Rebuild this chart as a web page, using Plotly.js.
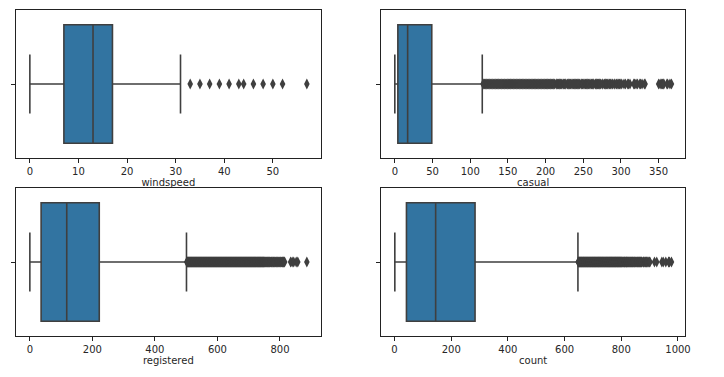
<!DOCTYPE html>
<html>
<head>
<meta charset="utf-8">
<script src="https://cdn.plot.ly/plotly-3.0.1.min.js"></script>
<style>html,body{margin:0;padding:0;background:#fff;}#chart{width:724px;height:377px;}</style>
</head>
<body>
<div id="chart"></div>
<script>
// ---- data ----
const variables = ['windspeed', 'casual', 'registered', 'count'];
const q1Values = [7.0015, 4, 36, 42];
const medianValues = [12.998, 17, 118, 145];
const q3Values = [16.9979, 49, 222, 284];
const lowerWhiskers = [0, 0, 0, 1];
const upperWhiskers = [31.0009, 116, 501, 647];

const windspeedOutliers = [32.9975, 35.0008, 36.9974, 39.0007, 40.9973, 43.0006, 43.9989, 46.0022, 47.9988, 50.0021, 51.9987, 56.9969];

const casualOutliers = [
117,118,119,120,121,122,123,124,125,126,127,128,129,130,131,132,133,134,135,136,
137,138,139,140,141,142,143,144,145,146,147,148,149,150,151,152,153,154,155,156,
157,158,159,160,161,162,163,164,165,166,167,168,169,170,171,172,173,174,175,176,
177,178,179,180,181,182,183,184,185,186,187,188,189,190,191,192,193,194,195,196,
197,198,199,200,201,202,203,204,205,206,207,208,209,210,211,212,214,215,216,217,
218,219,220,221,223,224,225,226,227,229,230,231,232,233,234,236,237,238,239,240,
241,242,243,244,245,247,248,249,250,252,253,254,255,256,257,258,260,261,262,263,
264,266,267,268,269,270,271,272,273,275,276,278,279,280,281,282,284,285,286,288,
289,291,292,294,295,297,298,299,301,304,306,309,310,312,317,318,320,322,325,326,
328,331,332,350,352,354,355,356,357,361,362,365,367];

const registeredOutliers = [
502,503,504,505,506,507,508,509,510,511,512,513,514,515,516,517,518,519,520,521,
522,523,524,525,526,527,528,529,530,531,532,533,534,535,536,537,538,539,540,541,
542,543,544,545,546,547,548,549,550,551,552,553,554,555,556,557,558,559,560,561,
562,563,564,565,566,567,568,569,570,571,572,573,574,575,576,577,578,579,580,581,
582,583,584,585,586,587,588,589,590,591,592,593,594,595,596,597,598,599,600,601,
602,603,604,605,606,607,608,609,610,611,612,613,614,615,616,617,618,619,620,621,
622,623,624,625,626,627,628,629,630,631,632,633,634,635,636,637,638,639,640,641,
642,643,644,645,646,647,648,649,650,651,652,653,654,655,656,657,658,659,660,661,
662,663,664,665,666,667,668,669,670,671,672,673,674,675,676,677,678,679,680,681,
682,683,684,685,686,687,688,689,690,691,692,693,694,695,696,697,698,699,700,701,
702,703,704,705,706,707,708,709,710,711,712,713,714,715,716,717,718,719,720,721,
722,723,724,725,726,727,728,729,730,731,732,733,734,735,736,737,738,739,740,741,
742,743,744,745,746,747,748,749,750,751,753,754,756,757,759,760,762,763,765,767,
768,770,772,773,775,777,779,780,782,784,786,788,790,791,793,795,797,799,801,803,
805,807,808,810,812,813,815,834,839,844,852,857,886];

const countOutliers = [
648,649,650,651,652,653,654,655,656,657,658,659,660,661,662,663,664,665,666,667,
668,669,670,671,672,673,674,675,676,677,678,679,680,681,682,683,684,685,686,687,
688,689,690,691,692,693,694,695,696,697,698,699,700,701,702,703,704,705,706,707,
708,709,710,711,712,713,714,715,716,717,718,719,720,721,722,723,724,725,726,727,
728,729,730,731,732,733,734,735,736,737,738,739,740,741,742,743,744,745,746,747,
748,749,750,751,752,753,754,755,756,757,758,759,760,761,762,763,764,765,766,767,
768,769,770,771,772,773,774,775,776,777,778,779,780,781,782,783,784,785,786,787,
788,789,790,791,792,793,794,795,796,797,798,799,800,801,802,804,805,806,808,809,
810,811,812,813,814,816,817,818,819,820,822,823,824,825,827,828,830,831,832,834,
835,836,838,839,840,842,843,845,846,848,850,851,853,855,856,857,859,860,862,863,
865,866,868,869,871,872,873,877,878,880,883,884,886,888,890,891,894,897,900,901,
917,925,943,948,957,967,968,970,977];

const outlierSets = [windspeedOutliers, casualOutliers, registeredOutliers, countOutliers];
const tickSets = [
  [0, 10, 20, 30, 40, 50],
  [0, 50, 100, 150, 200, 250, 300, 350],
  [0, 200, 400, 600, 800],
  [0, 200, 400, 600, 800, 1000]
];
const dataMin = [0, 0, 0, 1];
const dataMax = [56.9969, 367, 886, 977];

// ---- layout/styling ----
const W = 724, H = 377;
const xDomains = [[16/W, 320.7/W], [381/W, 685.3/W], [16/W, 320.7/W], [381/W, 685.3/W]];
const yDomains = [[1-158/H, 1-10/H], [1-158/H, 1-10/H], [1-336/H, 1-188/H], [1-336/H, 1-188/H]];
const boxFill = '#3274a1';
const lineGray = '#3f3f3f';
const font = {family: 'DejaVu Sans', size: 10, color: '#262626'};

const traces = [];
const layout = {
  width: W, height: H,
  margin: {l: 0, r: 0, t: 0, b: 0},
  paper_bgcolor: '#ffffff', plot_bgcolor: '#ffffff',
  showlegend: false,
  font: font
};

variables.forEach((name, i) => {
  const xa = i === 0 ? 'x' : 'x' + (i + 1);
  const ya = i === 0 ? 'y' : 'y' + (i + 1);
  traces.push({
    type: 'box', orientation: 'h',
    y: [0],
    q1: [q1Values[i]], median: [medianValues[i]], q3: [q3Values[i]],
    lowerfence: [lowerWhiskers[i]], upperfence: [upperWhiskers[i]],
    width: 0.8, whiskerwidth: 0.5, boxpoints: false,
    fillcolor: boxFill,
    line: {color: lineGray, width: 1.6},
    xaxis: xa, yaxis: ya, hoverinfo: 'skip'
  });
  traces.push({
    type: 'scatter', mode: 'markers',
    x: outlierSets[i], y: outlierSets[i].map(() => 0),
    marker: {symbol: 'diamond-tall', size: 8, color: lineGray, line: {width: 0}},
    xaxis: xa, yaxis: ya, hoverinfo: 'skip'
  });
  const span = dataMax[i] - dataMin[i];
  const xKey = i === 0 ? 'xaxis' : 'xaxis' + (i + 1);
  const yKey = i === 0 ? 'yaxis' : 'yaxis' + (i + 1);
  layout[xKey] = {
    domain: xDomains[i], anchor: ya,
    range: [dataMin[i] - 0.05 * span, dataMax[i] + 0.05 * span],
    tickvals: tickSets[i], ticktext: tickSets[i].map(String),
    ticks: 'outside', ticklen: 4, tickwidth: 1, tickcolor: '#222',
    showline: true, linecolor: '#222', linewidth: 1, mirror: true,
    showgrid: false, zeroline: false,
    tickfont: font,
    title: {text: name, font: font, standoff: 2}
  };
  layout[yKey] = {
    domain: yDomains[i], anchor: xa, type: 'linear',
    range: [0.5, -0.5],
    tickvals: [0], ticktext: [''],
    ticks: 'outside', ticklen: 4, tickwidth: 1, tickcolor: '#222',
    showline: true, linecolor: '#222', linewidth: 1, mirror: true,
    showgrid: false, zeroline: false, showticklabels: false
  };
});

Plotly.newPlot('chart', traces, layout, {staticPlot: true, displayModeBar: false});
</script>
</body>
</html>
